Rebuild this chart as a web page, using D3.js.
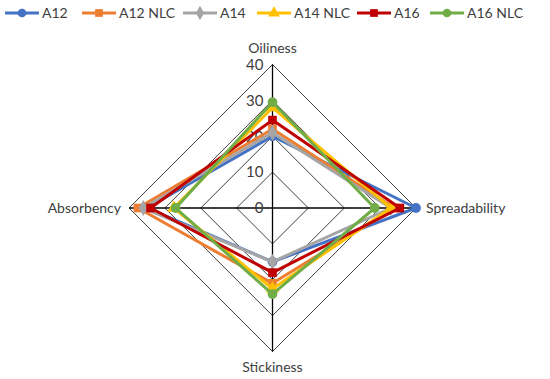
<!DOCTYPE html>
<html>
<head>
<meta charset="utf-8">
<script src="https://cdn.jsdelivr.net/npm/d3@7"></script>
<style>
  body { margin: 0; background: #fff; }
  text { font-family: Lato, "Open Sans", sans-serif; fill: #404040; }
</style>
</head>
<body>
<div id="chart"></div>
<script>
// chart data
var axesNames = ["Oiliness", "Spreadability", "Stickiness", "Absorbency"];
var seriesNames = ["A12", "A12 NLC", "A14", "A14 NLC", "A16", "A16 NLC"];
var a12 = [20, 40, 15, 35];
var a12nlc = [22, 34, 21, 37.5];
var a14 = [21, 33, 15, 36];
var a14nlc = [28, 33, 22.5, 27.5];
var a16 = [24.5, 35.5, 18, 34];
var a16nlc = [29.5, 28.5, 24, 27];
var ticks = [0, 10, 20, 30, 40];

var seriesValues = [a12, a12nlc, a14, a14nlc, a16, a16nlc];
var colors = ["#4472C4", "#ED7D31", "#A5A5A5", "#FFC000", "#C00000", "#70AD47"];
var symbols = [d3.symbolCircle, d3.symbolSquare, d3.symbolDiamond, d3.symbolTriangle, d3.symbolSquare, d3.symbolCircle];

var svgWidth = 550;
var svgHeight = 379;
var cx = 272.5, cy = 208, R = 143.5;

var svg = d3.select("#chart").append("svg")
  .attr("width", svgWidth)
  .attr("height", svgHeight);

var r = d3.scaleLinear().domain([0, 40]).range([0, R]);
var angle = d3.scalePoint().domain(axesNames.concat(["_end"])).range([0, 2 * Math.PI]);

function pt(name, v) {
  var a = angle(name);
  return [cx + r(v) * Math.sin(a), cy - r(v) * Math.cos(a)];
}

var g = svg.append("g");

// grid rings
ticks.slice(1).forEach(function(t) {
  g.append("polygon")
    .attr("points", axesNames.map(function(n) { return pt(n, t).join(","); }).join(" "))
    .attr("fill", "none")
    .attr("stroke", "#404040")
    .attr("stroke-width", 1);
});

// spokes
axesNames.forEach(function(n) {
  var p = pt(n, 40);
  g.append("line")
    .attr("x1", cx).attr("y1", cy)
    .attr("x2", p[0]).attr("y2", p[1])
    .attr("stroke", "#000")
    .attr("stroke-width", 1.3);
});

// tick labels
ticks.forEach(function(t) {
  var p = pt("Oiliness", t);
  g.append("text")
    .attr("x", p[0] - 9)
    .attr("y", p[1])
    .attr("dy", "0.35em")
    .attr("text-anchor", "end")
    .style("font-size", "15px")
    .text(t);
});

// axis labels
var lab = [
  { n: "Oiliness", dx: 0, dy: -16, anchor: "middle" },
  { n: "Spreadability", dx: 10, dy: 0, anchor: "start" },
  { n: "Stickiness", dx: 0, dy: 16, anchor: "middle" },
  { n: "Absorbency", dx: -8, dy: 0, anchor: "end" }
];
lab.forEach(function(d) {
  var p = pt(d.n, 40);
  g.append("text")
    .attr("x", p[0] + d.dx)
    .attr("y", p[1] + d.dy)
    .attr("dy", "0.35em")
    .attr("text-anchor", d.anchor)
    .style("font-size", "14px")
    .text(d.n);
});

// series
var line = d3.line().curve(d3.curveLinearClosed);
seriesValues.forEach(function(vals, i) {
  var pts = axesNames.map(function(n, j) { return pt(n, vals[j]); });
  g.append("path")
    .attr("d", line(pts))
    .attr("fill", "none")
    .attr("stroke", colors[i])
    .attr("stroke-width", 3)
    .attr("stroke-linejoin", "round");
  g.selectAll(null)
    .data(pts)
    .enter()
    .append("path")
    .attr("transform", function(p) { return "translate(" + p[0] + "," + p[1] + ")"; })
    .attr("d", d3.symbol().type(symbols[i]).size(75))
    .attr("fill", colors[i]);
});

// legend
var legX = [5, 82, 183, 257, 357, 430];
var legend = svg.append("g");
seriesNames.forEach(function(name, i) {
  var lg = legend.append("g").attr("transform", "translate(" + legX[i] + ",13)");
  lg.append("line")
    .attr("x1", 0).attr("x2", 34)
    .attr("stroke", colors[i])
    .attr("stroke-width", 3);
  lg.append("path")
    .attr("transform", "translate(17,0)")
    .attr("d", d3.symbol().type(symbols[i]).size(60))
    .attr("fill", colors[i]);
  lg.append("text")
    .attr("x", 37)
    .attr("dy", "0.35em")
    .style("font-size", "14px")
    .text(name);
});
</script>
</body>
</html>
